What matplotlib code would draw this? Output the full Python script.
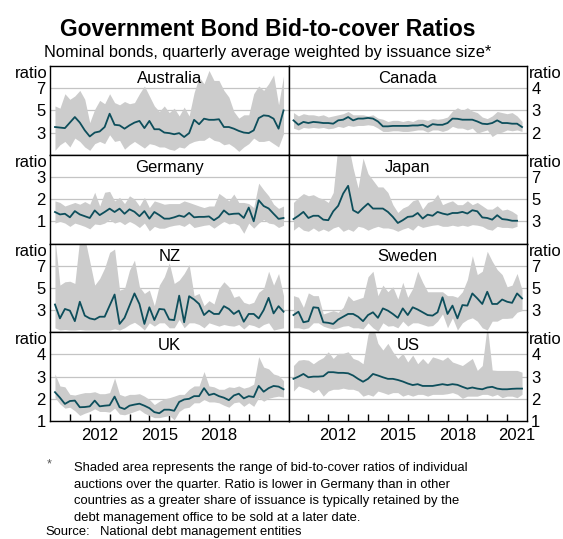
import numpy as np
import matplotlib
matplotlib.use("Agg")
import matplotlib.pyplot as plt

plt.rcParams["font.family"] = ["Liberation Sans", "DejaVu Sans"]

# Quarterly bid-to-cover ratios from 2010 Q1: weighted average, plus the
# lowest and highest ratio of the individual auctions in each quarter
aus_mean = [3.5, 3.45, 3.4, 3.9, 4.4, 3.9, 3.2, 2.65, 3.0, 3.1, 3.5, 4.7, 3.7, 3.65, 3.35, 3.65,
            3.9, 4.05, 3.4, 4.05, 3.3, 3.3, 3.0, 2.95, 2.85, 2.95, 2.6, 2.95, 4.15, 3.75, 4.25, 4.15,
            4.15, 4.2, 3.5, 3.5, 3.35, 3.15, 3.0, 2.95, 3.2, 4.3, 4.55, 4.5, 4.25, 3.35, 5.0]
aus_high = [5.4, 5.2, 6.5, 6.0, 6.3, 6.8, 6.0, 3.9, 5.1, 5.9, 5.6, 6.5, 5.7, 5.5, 5.8, 5.6,
            5.7, 6.5, 7.2, 6.3, 5.4, 4.9, 5.4, 4.8, 5.2, 4.5, 5.3, 4.5, 6.6, 8.0, 7.4, 8.6,
            7.7, 7.7, 6.8, 6.2, 4.9, 4.3, 4.6, 4.6, 6.5, 7.2, 6.8, 7.4, 8.2, 5.5, 8.1]
aus_low = [1.4, 1.9, 2.2, 1.7, 2.5, 2.2, 1.7, 1.4, 2.0, 2.2, 2.0, 2.8, 2.2, 2.3, 1.5, 1.9,
           2.2, 1.9, 1.6, 2.0, 1.9, 1.7, 1.7, 1.5, 1.4, 1.7, 1.6, 2.0, 2.2, 2.3, 2.3, 2.6,
           2.3, 2.2, 1.9, 2.0, 1.7, 1.3, 1.7, 2.0, 2.5, 2.2, 2.2, 2.3, 2.0, 1.7, 2.9]

can_mean = [2.55, 2.35, 2.48, 2.43, 2.48, 2.46, 2.43, 2.43, 2.4, 2.55, 2.58, 2.7, 2.55, 2.63, 2.63, 2.66,
            2.63, 2.5, 2.28, 2.28, 2.3, 2.3, 2.3, 2.3, 2.32, 2.32, 2.35, 2.25, 2.38, 2.35, 2.35, 2.43,
            2.63, 2.62, 2.58, 2.58, 2.58, 2.5, 2.4, 2.38, 2.43, 2.55, 2.43, 2.43, 2.4, 2.4, 2.25]
can_high = [2.9, 2.75, 2.85, 2.8, 2.8, 2.75, 2.8, 2.7, 2.75, 2.8, 2.85, 2.95, 2.8, 2.8, 2.8, 2.75,
            2.8, 2.65, 2.6, 2.5, 2.55, 2.55, 2.5, 2.55, 2.5, 2.6, 2.6, 2.55, 2.63, 2.6, 2.63, 2.7,
            2.97, 3.12, 3.0, 3.12, 2.97, 2.9, 2.7, 2.63, 2.75, 2.95, 2.9, 2.85, 2.9, 2.75, 2.5]
can_low = [2.2, 2.12, 2.23, 2.2, 2.23, 2.2, 2.23, 2.17, 2.2, 2.28, 2.23, 2.32, 2.28, 2.32, 2.32, 2.35,
           2.32, 2.2, 2.05, 2.05, 2.08, 2.08, 2.05, 2.05, 2.08, 2.12, 2.12, 2.02, 2.12, 2.12, 2.05, 2.12,
           2.28, 2.2, 2.2, 2.12, 2.2, 1.97, 2.05, 2.12, 1.82, 1.97, 2.02, 2.12, 2.08, 2.12, 2.05]

ger_mean = [1.42, 1.31, 1.34, 1.18, 1.46, 1.31, 1.23, 1.15, 1.49, 1.28, 1.42, 1.57, 1.42, 1.57, 1.34, 1.54,
            1.43, 1.23, 1.46, 1.12, 1.42, 1.28, 1.12, 1.12, 1.18, 1.26, 1.2, 1.38, 1.18, 1.2, 1.2, 1.22,
            1.05, 1.2, 1.49, 1.31, 1.34, 1.35, 1.15, 1.62, 1.0, 1.95, 1.69, 1.58, 1.34, 1.11, 1.15]
ger_high = [1.92, 1.85, 1.69, 1.77, 1.85, 1.77, 1.89, 1.77, 2.31, 1.69, 2.31, 2.35, 1.92, 2.08, 1.8, 2.15,
            2.0, 1.69, 2.08, 1.62, 1.92, 1.85, 1.77, 1.8, 1.8, 1.8, 1.92, 1.85, 1.77, 1.69, 1.62, 1.69,
            1.69, 2.26, 2.1, 1.92, 2.23, 1.85, 1.85, 1.8, 1.62, 2.72, 2.42, 2.15, 1.77, 1.58, 1.69]
ger_low = [0.92, 1.0, 0.92, 0.77, 0.92, 0.85, 0.77, 0.66, 0.88, 0.85, 0.92, 1.08, 0.92, 1.0, 0.85, 1.0,
           0.88, 0.72, 0.92, 0.57, 0.77, 0.69, 0.69, 0.77, 0.82, 0.85, 0.77, 0.92, 0.72, 0.77, 0.82, 0.85,
           0.69, 0.85, 1.0, 0.88, 0.92, 0.82, 0.46, 0.92, 0.69, 0.92, 1.08, 0.92, 0.88, 0.72, 0.82]

jpn_mean = [3.2, 3.5, 3.85, 3.3, 3.5, 3.5, 3.15, 3.1, 3.9, 4.4, 5.5, 6.2, 4.0, 3.75, 4.2, 4.6,
            4.15, 4.15, 4.15, 3.85, 3.4, 2.85, 3.1, 3.4, 3.45, 3.75, 3.25, 3.6, 3.5, 3.85, 3.7, 3.6,
            3.75, 3.75, 3.85, 3.7, 4.0, 3.9, 3.35, 3.3, 3.15, 3.55, 3.2, 3.15, 3.05, 3.05]
jpn_high = [4.7, 5.15, 5.5, 5.3, 5.4, 5.15, 5.0, 4.7, 5.6, 10.0, 10.0, 10.0, 7.8, 6.0, 8.7, 7.3,
            6.7, 6.1, 6.1, 5.6, 4.5, 3.8, 4.2, 4.4, 4.85, 5.0, 4.1, 4.7, 4.85, 5.45, 4.5, 4.7,
            4.85, 4.5, 4.5, 4.85, 4.5, 4.7, 4.4, 4.1, 4.1, 4.4, 4.0, 4.1, 3.9, 3.6]
jpn_low = [2.2, 2.55, 2.2, 2.1, 2.4, 2.1, 2.3, 2.1, 2.4, 2.55, 2.1, 2.3, 2.1, 2.55, 2.45, 2.2,
           2.4, 2.55, 2.4, 2.4, 2.3, 2.1, 2.3, 2.45, 2.2, 2.65, 2.45, 2.55, 2.65, 2.7, 2.55, 2.55,
           2.65, 2.55, 2.65, 2.55, 2.7, 2.65, 2.55, 2.3, 2.2, 2.55, 2.45, 2.45, 2.4, 2.55]

nz_mean = [3.5, 2.25, 3.1, 2.95, 2.0, 3.75, 2.5, 2.25, 2.15, 2.4, 2.4, 3.4, 4.4, 1.75, 2.3, 3.4,
           4.5, 3.55, 1.75, 3.25, 2.1, 3.1, 3.05, 2.15, 2.1, 4.3, 1.9, 4.25, 3.95, 3.55, 2.55, 2.95,
           2.65, 2.65, 3.35, 3.1, 2.65, 2.95, 1.95, 2.65, 2.65, 2.25, 3.0, 4.1, 2.7, 3.35, 2.85]
nz_high = [9.5, 5.25, 5.55, 5.6, 5.4, 9.5, 9.5, 7.4, 5.25, 5.85, 6.8, 8.2, 8.5, 4.8, 4.95, 6.6,
           7.5, 5.1, 4.5, 4.8, 3.4, 5.25, 6.0, 7.25, 5.4, 5.7, 6.3, 7.1, 4.3, 4.5, 3.4, 3.85,
           3.55, 4.95, 5.55, 5.1, 4.15, 4.3, 3.7, 3.55, 3.7, 4.6, 4.95, 6.5, 5.25, 6.3, 4.3]
nz_low = [1.4, 1.2, 1.25, 1.2, 1.2, 1.25, 1.2, 1.2, 1.2, 1.2, 1.2, 1.2, 1.3, 1.2, 1.4, 1.7,
          1.9, 1.6, 1.2, 1.85, 1.55, 1.85, 1.85, 1.4, 1.4, 2.15, 1.4, 1.85, 1.85, 1.7, 1.4, 1.85,
          1.7, 1.55, 1.7, 1.6, 1.55, 1.7, 1.3, 1.7, 1.6, 1.4, 1.7, 1.85, 1.2, 1.3, 1.4]

swe_mean = [2.55, 2.85, 1.9, 2.0, 3.25, 3.2, 1.9, 1.85, 1.75, 2.15, 2.4, 2.65, 2.65, 2.4, 2.0, 2.55,
            2.8, 2.3, 3.15, 2.95, 2.65, 2.3, 3.15, 2.55, 3.25, 3.05, 2.8, 2.55, 2.5, 2.8, 4.15, 2.65,
            3.4, 2.25, 3.45, 3.4, 4.5, 4.05, 3.55, 4.65, 3.55, 3.55, 3.95, 3.75, 3.65, 4.5, 4.05]
swe_high = [4.3, 4.15, 3.25, 4.55, 4.3, 4.3, 2.65, 2.8, 2.95, 2.8, 3.25, 4.3, 3.85, 4.0, 4.15, 6.0,
            6.5, 4.3, 5.25, 4.65, 5.1, 4.0, 5.5, 4.15, 4.95, 6.5, 5.5, 4.65, 4.65, 4.65, 4.65, 4.3,
            4.3, 4.15, 4.65, 5.75, 7.9, 6.2, 6.5, 8.3, 7.4, 6.65, 6.2, 5.1, 5.25, 6.3, 4.85]
swe_low = [1.4, 1.4, 1.3, 1.4, 1.85, 1.85, 1.55, 1.4, 1.3, 1.4, 1.55, 1.6, 1.4, 1.4, 1.3, 1.85,
           1.4, 1.1, 1.85, 1.55, 1.6, 1.4, 2.0, 1.55, 1.85, 1.85, 1.7, 1.55, 1.6, 2.0, 2.65, 1.4,
           2.3, 1.2, 1.85, 2.15, 2.3, 2.0, 1.4, 1.2, 2.0, 2.0, 2.25, 2.25, 2.3, 2.8, 2.95]

uk_mean = [2.3, 2.05, 1.77, 1.9, 1.92, 1.62, 1.63, 1.66, 1.92, 1.66, 1.69, 1.71, 2.1, 1.62, 1.54, 1.69,
           1.74, 1.78, 1.69, 1.58, 1.4, 1.35, 1.51, 1.51, 1.46, 1.86, 1.97, 2.0, 2.12, 2.12, 2.48, 2.17,
           2.23, 2.12, 2.05, 1.94, 2.15, 2.23, 2.02, 2.12, 2.08, 2.58, 2.32, 2.48, 2.58, 2.55, 2.43]
uk_high = [3.12, 2.58, 2.54, 2.2, 2.17, 2.23, 2.28, 2.28, 2.32, 2.23, 2.23, 2.28, 2.94, 2.2, 2.12, 2.2,
           2.2, 2.23, 2.12, 1.97, 1.74, 1.89, 2.0, 2.05, 2.12, 2.2, 2.2, 2.43, 2.58, 2.58, 3.23, 2.58,
           2.54, 2.43, 2.43, 2.54, 2.51, 2.58, 2.48, 2.54, 2.66, 3.9, 3.43, 3.35, 3.12, 3.05, 2.82]
uk_low = [2.05, 1.77, 1.58, 1.62, 1.46, 1.25, 1.35, 1.43, 1.55, 1.43, 1.43, 1.4, 1.58, 1.31, 1.28, 1.35,
          1.43, 1.51, 1.35, 1.25, 1.15, 1.15, 1.2, 1.25, 1.05, 1.43, 1.58, 1.62, 1.82, 1.82, 1.97, 1.86,
          1.86, 1.82, 1.71, 1.62, 1.82, 1.86, 1.66, 1.82, 1.66, 2.05, 1.89, 2.02, 2.08, 2.12, 2.08]

us_mean = [2.9, 3.0, 3.12, 2.97, 3.0, 3.0, 3.02, 3.2, 3.2, 3.17, 3.17, 3.15, 3.05, 2.9, 2.77, 2.9,
           3.12, 3.05, 2.97, 2.9, 2.9, 2.85, 2.78, 2.69, 2.62, 2.66, 2.58, 2.58, 2.58, 2.62, 2.66, 2.62,
           2.66, 2.63, 2.54, 2.46, 2.51, 2.46, 2.43, 2.51, 2.54, 2.46, 2.43, 2.43, 2.45, 2.46, 2.46]
us_high = [3.5, 3.74, 3.77, 3.74, 3.58, 3.74, 3.86, 4.12, 3.82, 4.05, 4.05, 4.12, 3.82, 3.74, 3.58, 4.9,
           5.3, 4.5, 4.2, 4.5, 4.12, 3.82, 4.05, 3.66, 3.97, 3.58, 3.82, 3.58, 3.89, 3.82, 3.74, 3.89,
           3.66, 3.58, 3.5, 3.66, 3.82, 3.28, 3.5, 5.3, 3.3, 3.28, 3.28, 3.28, 3.28, 3.28, 3.2]
us_low = [2.35, 2.58, 2.5, 2.43, 2.28, 2.43, 2.12, 2.35, 2.43, 2.43, 2.48, 2.43, 2.43, 2.35, 2.12, 2.2,
          2.12, 2.35, 2.28, 2.2, 2.28, 2.28, 2.12, 2.2, 2.12, 2.2, 2.2, 2.12, 2.2, 2.2, 2.2, 2.23,
          2.28, 2.2, 2.02, 2.12, 2.12, 2.12, 2.2, 2.2, 2.12, 2.2, 2.05, 2.12, 2.12, 2.05, 2.2]

# (name, low, mean, high, y-limits, y-ticks), left column then right column
panels = [
    ("Australia", aus_low, aus_mean, aus_high, (1, 9), [3, 5, 7]),
    ("Canada", can_low, can_mean, can_high, (1, 5), [2, 3, 4]),
    ("Germany", ger_low, ger_mean, ger_high, (0, 4), [1, 2, 3]),
    ("Japan", jpn_low, jpn_mean, jpn_high, (1, 9), [3, 5, 7]),
    ("NZ", nz_low, nz_mean, nz_high, (1, 9), [3, 5, 7]),
    ("Sweden", swe_low, swe_mean, swe_high, (1, 9), [3, 5, 7]),
    ("UK", uk_low, uk_mean, uk_high, (1, 5), [1, 2, 3, 4]),
    ("US", us_low, us_mean, us_high, (1, 5), [1, 2, 3, 4]),
]

year_ticks = list(range(2011, 2022))
left_labels = ["2012", "2015", "2018"]
right_labels = ["2012", "2015", "2018", "2021"]

line_colour = "#0d4e5b"
fill_colour = "#cccccc"
grid_colour = "#c4c4c4"


def quarter_ends(n):
    # observations sit at the end of each quarter, starting 2010 Q1
    return 2010 + 0.25 * np.arange(1, n + 1)


fig = plt.figure(figsize=(5.63, 5.39), dpi=100)
axes = fig.subplots(4, 2, gridspec_kw=dict(left=50 / 563, right=527 / 563,
                                           top=1 - 66 / 539, bottom=1 - 421 / 539,
                                           hspace=0, wspace=0))

for i, (ax, (name, low, mean, high, ylim, yticks)) in enumerate(zip(axes.flat, panels)):
    row, col = divmod(i, 2)
    x = quarter_ends(len(mean))
    ax.fill_between(x, low, high, color=fill_colour, lw=0, zorder=1)
    ax.plot(x, mean, color=line_colour, lw=1.3, zorder=2)

    ax.set_xlim(2010, 2022)
    ax.set_ylim(*ylim)
    ax.set_yticks(yticks)
    ax.grid(axis="y", color=grid_colour, lw=0.9)
    ax.set_axisbelow(True)
    ax.tick_params(axis="y", length=0, pad=3, labelsize=12)
    for s in ax.spines.values():
        s.set_linewidth(1.0)

    if col == 1:
        ax.yaxis.tick_right()
        ax.text(1.008, 1.0, "ratio", transform=ax.transAxes, ha="left", va="top", fontsize=12)
    else:
        ax.text(-0.008, 1.0, "ratio", transform=ax.transAxes, ha="right", va="top", fontsize=12)

    ax.text(0.5, 0.94, name, transform=ax.transAxes, ha="center", va="top", fontsize=12)

    if row == 3:
        labels = right_labels if col == 1 else left_labels
        ax.set_xticks(year_ticks)
        ax.set_xticklabels([])
        ax.set_xticks([int(l) + 0.5 for l in labels], minor=True)
        ax.set_xticklabels(labels, minor=True)
        ax.tick_params(axis="x", which="major", direction="in", length=5, width=1)
        ax.tick_params(axis="x", which="minor", length=0, pad=5, labelsize=12)
    else:
        ax.set_xticks([])

fig.text(267.5 / 563, 1 - 29 / 539, "Government Bond Bid-to-cover Ratios", ha="center",
         va="center", fontsize=16.5, fontweight="bold")
fig.text(267.5 / 563, 1 - 53 / 539, "Nominal bonds, quarterly average weighted by issuance size*",
         ha="center", va="center", fontsize=11.8)

notes = [
    "Shaded area represents the range of bid-to-cover ratios of individual",
    "auctions over the quarter. Ratio is lower in Germany than in other",
    "countries as a greater share of issuance is typically retained by the",
    "debt management office to be sold at a later date.",
]
fig.text(47 / 563, 1 - 467 / 539, "*", ha="left", va="baseline", fontsize=9, color="#555555")
for j, line in enumerate(notes):
    fig.text(74 / 563, 1 - (471 + 16.7 * j) / 539, line, ha="left", va="baseline", fontsize=9.4)
fig.text(45 / 563, 1 - 535 / 539, "Source:", ha="left", va="baseline", fontsize=9.4)
fig.text(100 / 563, 1 - 535 / 539, "National debt management entities", ha="left",
         va="baseline", fontsize=9.4)

fig.savefig("out.png", dpi=100, facecolor="white")
